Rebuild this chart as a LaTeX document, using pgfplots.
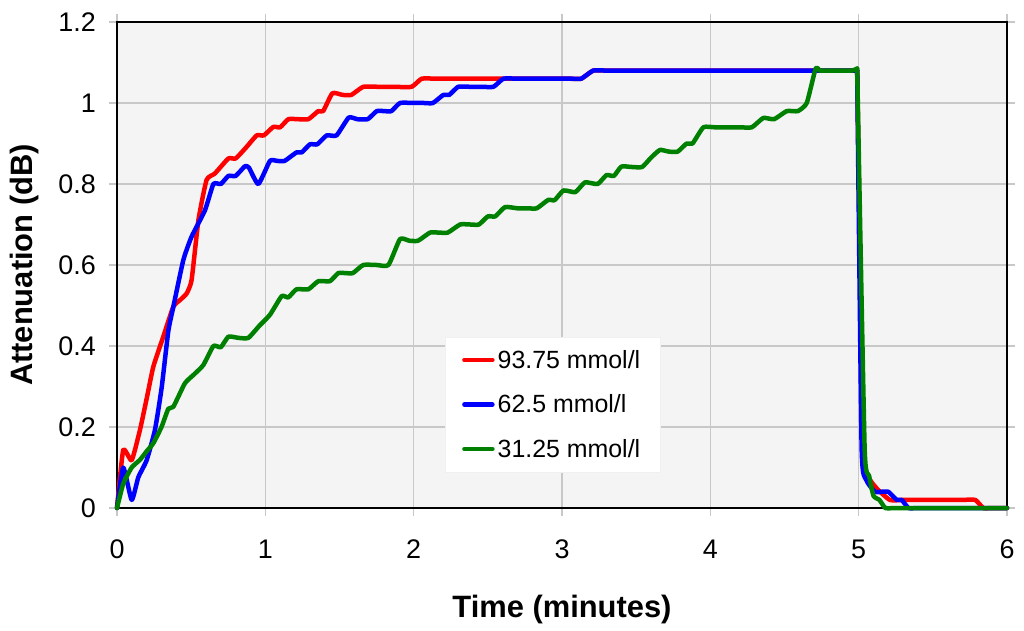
\documentclass[border=0pt]{standalone}
\usepackage{pgfplots}
\pgfplotsset{compat=1.18}
\usepackage{fontspec}
\setmainfont{Liberation Sans}
\definecolor{bggray}{RGB}{244,244,244}
\definecolor{gridgray}{RGB}{200,200,200}
\definecolor{dgreen}{RGB}{0,128,0}
\begin{document}
\begin{tikzpicture}
\begin{axis}[
  at={(0,0)}, anchor=south west,
  scale only axis, width=890bp, height=486bp,
  xmin=0, xmax=6, ymin=0, ymax=1.2,
  xtick={0,1,2,3,4,5,6},
  ytick={0,0.2,0.4,0.6,0.8,1,1.2},
  /pgf/number format/assume math mode=true,
  yticklabel style={anchor=east, inner sep=0pt, xshift=-13bp, font=\fontsize{27}{27}\selectfont},
  xticklabel style={anchor=base, inner sep=0pt, yshift=-42bp, font=\fontsize{27}{27}\selectfont},
  tick align=outside, major tick length=8bp,
  tick style={gridgray, line width=1.2bp},
  grid=major,
  major grid style={gridgray, line width=1.3bp},
  axis line style={black, line width=1.6bp},
  axis background/.style={fill=bggray},
  xlabel={Time (minutes)},
  ylabel={Attenuation (dB)},
  xlabel style={at={(axis description cs:0.5,0)}, anchor=base, yshift=-109bp, font=\fontsize{31}{31}\selectfont\bfseries},
  ylabel style={at={(axis description cs:0,0.5)}, anchor=base, yshift=84bp, font=\fontsize{31}{31}\selectfont\bfseries},
  clip=false,
  legend cell align=left,
  legend image code/.code={\draw[#1, line width=4.5bp] (0bp,0bp) -- (28bp,0bp);},
  legend style={at={(0.3685,0.3519)}, anchor=north west, fill=white, draw=gray!12,
    inner xsep=17bp, inner ysep=13bp, row sep=25bp,
    font=\fontsize{25}{25}\selectfont,
    nodes={inner xsep=3bp, inner ysep=0pt}},
  every axis plot/.append style={line width=4.5bp, smooth, tension=0.3, line join=round, line cap=round},
]
% 93.75 mmol/l
\addplot[red] coordinates {
(0,0) (0.042,0.143) (0.099,0.118) (0.155,0.193) (0.2,0.27) (0.245,0.349) (0.312,0.423) (0.38,0.497) (0.43,0.515) (0.47,0.53) (0.503,0.563) (0.549,0.711) (0.604,0.81) (0.66,0.826) (0.751,0.863) (0.8,0.863) (0.87,0.89) (0.942,0.92) (0.99,0.92) (1.054,0.941) (1.1,0.94) (1.155,0.96) (1.22,0.96) (1.29,0.96) (1.357,0.98) (1.39,0.98) (1.452,1.024) (1.52,1.02) (1.58,1.02) (1.66,1.04) (1.76,1.04) (1.86,1.04) (1.986,1.04) (2.054,1.06) (2.15,1.06) (2.25,1.06) (2.35,1.06) (2.45,1.06) (2.55,1.06) (2.65,1.06) (2.75,1.06) (2.85,1.06) (2.95,1.06) (3.05,1.06) (3.13,1.06) (3.21,1.08) (3.3,1.08) (3.4,1.08) (3.5,1.08) (3.6,1.08) (3.7,1.08) (3.8,1.08) (3.9,1.08) (4.0,1.08) (4.1,1.08) (4.2,1.08) (4.3,1.08) (4.4,1.08) (4.5,1.08) (4.6,1.08) (4.7,1.08) (4.8,1.08) (4.9,1.08) (4.99,1.08)
};
\addlegendentry{93.75 mmol/l}
\addplot[red, forget plot] coordinates {
(4.99,1.08) (5.03,0.15) (5.06,0.08) (5.12,0.049) (5.21,0.02) (5.3,0.02) (5.4,0.02) (5.5,0.02) (5.6,0.02) (5.7,0.02) (5.786,0.02) (5.84,0) (5.9,0) (6,0)
};
% 62.5 mmol/l
\addplot[blue] coordinates {
(0,0) (0.042,0.10) (0.099,0.02) (0.144,0.076) (0.2,0.118) (0.256,0.193) (0.301,0.297) (0.346,0.437) (0.38,0.497) (0.447,0.612) (0.503,0.67) (0.593,0.735) (0.65,0.80) (0.7,0.80) (0.751,0.82) (0.8,0.82) (0.863,0.844) (0.89,0.84) (0.953,0.80) (1.031,0.857) (1.08,0.857) (1.13,0.857) (1.21,0.878) (1.245,0.878) (1.301,0.898) (1.35,0.898) (1.414,0.92) (1.48,0.92) (1.562,0.964) (1.62,0.96) (1.69,0.96) (1.751,0.98) (1.8,0.98) (1.85,0.98) (1.908,1.0) (2.0,1.0) (2.07,1.0) (2.13,1.0) (2.2,1.02) (2.24,1.02) (2.30,1.04) (2.38,1.04) (2.46,1.04) (2.538,1.04) (2.605,1.06) (2.7,1.06) (2.8,1.06) (2.9,1.06) (3.0,1.06) (3.07,1.06) (3.13,1.06) (3.21,1.08) (3.3,1.08) (3.4,1.08) (3.5,1.08) (3.6,1.08) (3.7,1.08) (3.8,1.08) (3.9,1.08) (4.0,1.08) (4.1,1.08) (4.2,1.08) (4.3,1.08) (4.4,1.08) (4.5,1.08) (4.6,1.08) (4.7,1.08) (4.8,1.08) (4.9,1.08) (4.99,1.08)
};
\addlegendentry{62.5 mmol/l}
\addplot[blue, forget plot] coordinates {
(4.99,1.08) (5.02,0.15) (5.05,0.07) (5.11,0.04) (5.15,0.04) (5.2,0.04) (5.257,0.02) (5.29,0.02) (5.336,0) (5.4,0) (5.5,0) (5.6,0) (5.7,0) (5.8,0) (5.9,0) (6,0)
};
% 31.25 mmol/l
\addplot[dgreen] coordinates {
(0,0) (0.042,0.06) (0.099,0.10) (0.155,0.119) (0.2,0.14) (0.245,0.16) (0.3,0.2) (0.346,0.245) (0.38,0.25) (0.458,0.308) (0.52,0.33) (0.582,0.353) (0.65,0.40) (0.7,0.397) (0.751,0.423) (0.82,0.42) (0.885,0.42) (0.96,0.45) (1.031,0.477) (1.11,0.523) (1.155,0.52) (1.21,0.54) (1.29,0.54) (1.357,0.56) (1.435,0.56) (1.492,0.58) (1.54,0.58) (1.59,0.58) (1.66,0.60) (1.75,0.60) (1.83,0.60) (1.908,0.664) (1.97,0.66) (2.03,0.66) (2.11,0.68) (2.17,0.68) (2.23,0.68) (2.313,0.70) (2.38,0.70) (2.44,0.70) (2.50,0.72) (2.55,0.72) (2.616,0.743) (2.7,0.74) (2.77,0.74) (2.83,0.74) (2.908,0.761) (2.95,0.76) (3.01,0.784) (3.09,0.78) (3.155,0.804) (3.24,0.80) (3.30,0.822) (3.35,0.82) (3.40,0.843) (3.47,0.842) (3.54,0.842) (3.6,0.865) (3.66,0.884) (3.72,0.88) (3.78,0.88) (3.84,0.90) (3.88,0.90) (3.953,0.94) (4.03,0.94) (4.1,0.94) (4.2,0.94) (4.28,0.94) (4.357,0.963) (4.43,0.96) (4.515,0.98) (4.59,0.98) (4.65,1.0) (4.71,1.085) (4.74,1.08) (4.8,1.08) (4.88,1.08) (4.955,1.08) (4.99,1.085)
};
\addlegendentry{31.25 mmol/l}
\addplot[dgreen, forget plot] coordinates {
(4.99,1.085) (5.04,0.15) (5.07,0.08) (5.1,0.03) (5.14,0.02) (5.18,0) (5.25,0) (5.35,0) (5.45,0) (5.55,0) (5.65,0) (5.75,0) (5.85,0) (5.95,0) (6,0)
};
\end{axis}
\path (-117bp,-123bp) rectangle (907bp,508bp);
\end{tikzpicture}
\end{document}
